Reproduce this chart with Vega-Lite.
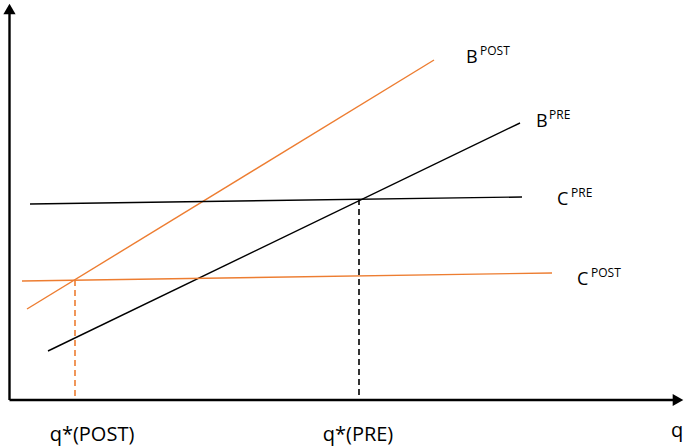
{
  "$schema": "https://vega.github.io/schema/vega-lite/v6.json",
  "width": 685,
  "height": 446,
  "autosize": {"type": "fit", "contains": "padding"},
  "padding": 0,
  "background": "white",
  "config": {"view": {"stroke": null}},
  "datasets": {
    "curves": [
      {"series": "BPOST", "q": 27, "v": 137},
      {"series": "BPOST", "q": 434, "v": 386},
      {"series": "BPRE", "q": 48, "v": 95},
      {"series": "BPRE", "q": 520, "v": 323},
      {"series": "CPRE", "q": 30, "v": 242},
      {"series": "CPRE", "q": 522, "v": 249},
      {"series": "CPOST", "q": 22, "v": 165},
      {"series": "CPOST", "q": 552, "v": 173}
    ],
    "drops": [
      {"series": "POST", "q": 75, "v": 166},
      {"series": "POST", "q": 75, "v": 46},
      {"series": "PRE", "q": 359, "v": 247},
      {"series": "PRE", "q": 359, "v": 46}
    ],
    "axes": [
      {"axis": "y", "q": 9.5, "v": 46},
      {"axis": "y", "q": 9.5, "v": 434},
      {"axis": "x", "q": 9.5, "v": 46},
      {"axis": "x", "q": 674, "v": 46}
    ],
    "arrowsUp": [{"q": 9.5, "v": 437}],
    "arrowsRight": [{"q": 678, "v": 46}],
    "mainLabels": [
      {"t": "B", "q": 466, "v": 383},
      {"t": "B", "q": 536, "v": 319},
      {"t": "C", "q": 557, "v": 241},
      {"t": "C", "q": 577, "v": 161}
    ],
    "supLabels": [
      {"t": "POST", "q": 480, "v": 391},
      {"t": "PRE", "q": 549, "v": 327},
      {"t": "PRE", "q": 571, "v": 249},
      {"t": "POST", "q": 591, "v": 169}
    ],
    "axisLabels": [
      {"t": "q*(POST)", "q": 92, "v": 5},
      {"t": "q*(PRE)", "q": 358, "v": 5},
      {"t": "q", "q": 677, "v": 9}
    ]
  },
  "layer": [
    {
      "data": {"name": "curves"},
      "mark": {"type": "line", "strokeWidth": 1.4},
      "encoding": {
        "x": {"field": "q", "type": "quantitative", "scale": {"domain": [0, 685], "nice": false, "zero": false}, "axis": null},
        "y": {"field": "v", "type": "quantitative", "scale": {"domain": [0, 446], "nice": false, "zero": false}, "axis": null},
        "detail": {"field": "series"},
        "color": {"field": "series", "type": "nominal", "scale": {"domain": ["BPOST", "BPRE", "CPRE", "CPOST"], "range": ["#ED7D31", "#000000", "#000000", "#ED7D31"]}, "legend": null}
      }
    },
    {
      "data": {"name": "drops"},
      "mark": {"type": "line", "strokeWidth": 1.6, "strokeDash": [6, 4]},
      "encoding": {
        "x": {"field": "q", "type": "quantitative"},
        "y": {"field": "v", "type": "quantitative"},
        "detail": {"field": "series"},
        "color": {"field": "series", "type": "nominal", "scale": {"domain": ["POST", "PRE"], "range": ["#ED7D31", "#000000"]}, "legend": null}
      }
    },
    {
      "data": {"name": "axes"},
      "mark": {"type": "line", "strokeWidth": 2.4, "color": "#000000"},
      "encoding": {
        "x": {"field": "q", "type": "quantitative"},
        "y": {"field": "v", "type": "quantitative"},
        "detail": {"field": "axis"}
      }
    },
    {
      "data": {"name": "arrowsUp"},
      "mark": {"type": "point", "shape": "triangle-up", "filled": true, "color": "#000000", "size": 150, "opacity": 1},
      "encoding": {
        "x": {"field": "q", "type": "quantitative"},
        "y": {"field": "v", "type": "quantitative"}
      }
    },
    {
      "data": {"name": "arrowsRight"},
      "mark": {"type": "point", "shape": "triangle-right", "filled": true, "color": "#000000", "size": 150, "opacity": 1},
      "encoding": {
        "x": {"field": "q", "type": "quantitative"},
        "y": {"field": "v", "type": "quantitative"}
      }
    },
    {
      "data": {"name": "mainLabels"},
      "mark": {"type": "text", "font": "Open Sans", "fontSize": 18, "align": "left", "baseline": "alphabetic", "color": "#000000"},
      "encoding": {
        "x": {"field": "q", "type": "quantitative"},
        "y": {"field": "v", "type": "quantitative"},
        "text": {"field": "t"}
      }
    },
    {
      "data": {"name": "supLabels"},
      "mark": {"type": "text", "font": "Open Sans", "fontSize": 12, "align": "left", "baseline": "alphabetic", "color": "#000000"},
      "encoding": {
        "x": {"field": "q", "type": "quantitative"},
        "y": {"field": "v", "type": "quantitative"},
        "text": {"field": "t"}
      }
    },
    {
      "data": {"name": "axisLabels"},
      "mark": {"type": "text", "font": "Open Sans", "fontSize": 20, "align": "center", "baseline": "alphabetic", "color": "#000000"},
      "encoding": {
        "x": {"field": "q", "type": "quantitative"},
        "y": {"field": "v", "type": "quantitative"},
        "text": {"field": "t"}
      }
    }
  ]
}
